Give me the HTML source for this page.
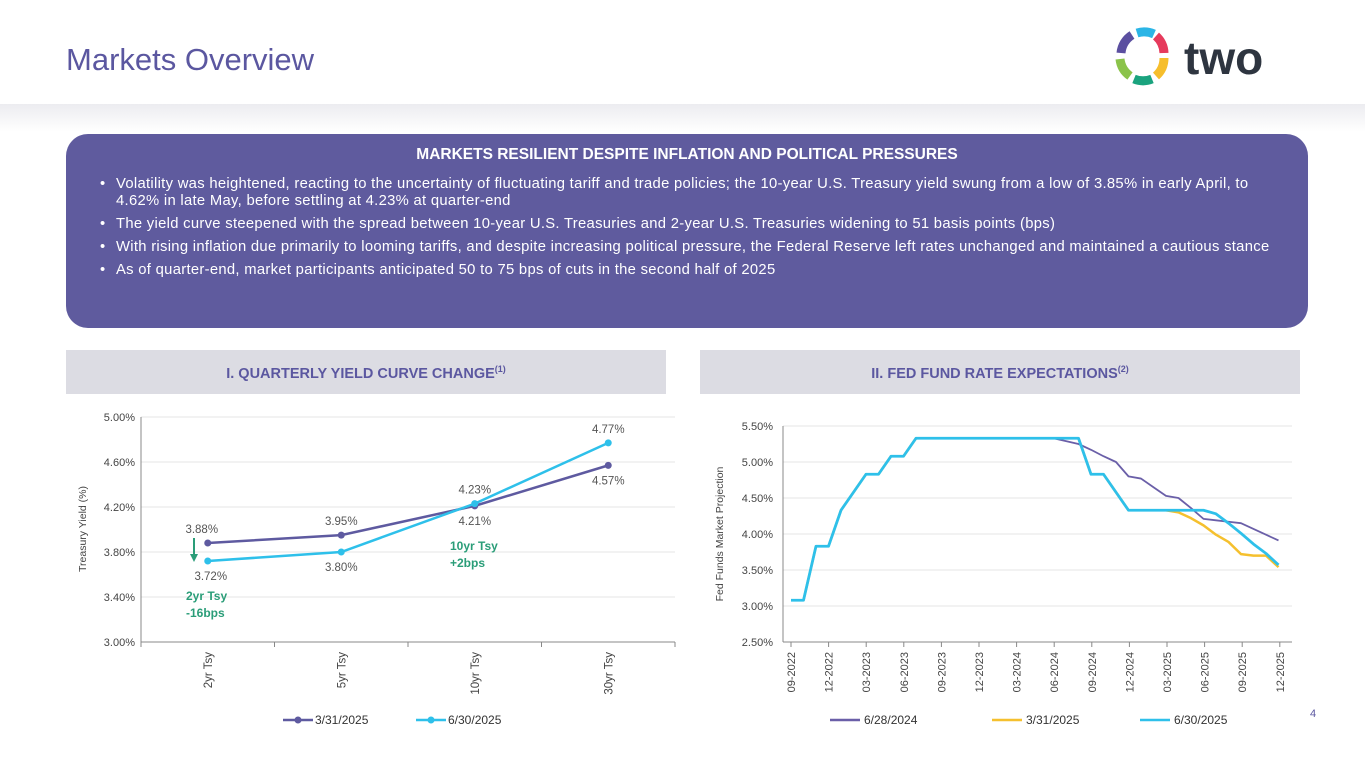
<!DOCTYPE html>
<html><head><meta charset="utf-8">
<style>
body{margin:0;width:1365px;height:768px;background:#fff;font-family:"Liberation Sans",sans-serif;overflow:hidden;position:relative}
.abs{position:absolute}
#title{left:66px;top:42px;font-size:31px;color:#5b57a0}
#band{left:0;top:104px;width:1365px;height:28px;background:linear-gradient(#ececf0,#fff)}
#banner{left:66px;top:134px;width:1242px;height:194px;background:#5f5b9e;border-radius:22px;color:#fff}
#banner h2{margin:0;text-align:center;font-size:15.5px;font-weight:bold;padding-top:12px}
#banner ul{margin:12px 0 0 0;padding:0 18px 0 50px;font-size:14.8px;letter-spacing:0.3px;line-height:17px;list-style:none}
#banner li{position:relative;margin-bottom:6px}
#banner li:before{content:"•";position:absolute;left:-16px}
.hdr{top:350px;height:44px;width:600px;background:#dcdce3;color:#5b57a0;font-weight:bold;font-size:14.5px;text-align:center;line-height:38px}
</style></head><body>
<div class="abs" id="title">Markets Overview</div>
<svg class="abs" style="left:1112px;top:26px" width="190" height="64">
 <g fill="none" stroke-width="9">
  <path d="M25 7 A24 24 0 0 1 42 8" stroke="#2bb5e6"/>
  <path d="M44 10 A24 24 0 0 1 52 27" stroke="#e63a5c"/>
  <path d="M52 32 A24 24 0 0 1 44 50" stroke="#f6be2c"/>
  <path d="M40 53 A24 24 0 0 1 22 53" stroke="#1aa37e"/>
  <path d="M18 50 A24 24 0 0 1 8 33" stroke="#8bc34a"/>
  <path d="M9 27 A24 24 0 0 1 20 9" stroke="#5b4fa0"/>
 </g>
 <text x="72" y="48" font-size="46" font-weight="bold" fill="#2e3540" font-family="Liberation Sans,sans-serif">two</text>
</svg>
<div class="abs" id="band"></div>
<div class="abs" id="banner">
<h2>MARKETS RESILIENT DESPITE INFLATION AND POLITICAL PRESSURES</h2>
<ul>
<li>Volatility was heightened, reacting to the uncertainty of fluctuating tariff and trade policies; the 10-year U.S. Treasury yield swung from a low of 3.85% in early April, to<br>4.62% in late May, before settling at 4.23% at quarter-end</li>
<li>The yield curve steepened with the spread between 10-year U.S. Treasuries and 2-year U.S. Treasuries widening to 51 basis points (bps)</li>
<li>With rising inflation due primarily to looming tariffs, and despite increasing political pressure, the Federal Reserve left rates unchanged and maintained a cautious stance</li>
<li>As of quarter-end, market participants anticipated 50 to 75 bps of cuts in the second half of 2025</li>
</ul></div>
<div class="abs hdr" style="left:66px">I. QUARTERLY YIELD CURVE CHANGE<sup style="font-size:9px">(1)</sup></div>
<div class="abs hdr" style="left:700px">II. FED FUND RATE EXPECTATIONS<sup style="font-size:9px">(2)</sup></div>
<div class="abs" style="left:1310px;top:708px;font-size:11px;color:#5b57a0">4</div>
<svg class="abs" style="left:0;top:0" width="1365" height="768" id="charts"></svg>
<script>
const ycCats=["2yr Tsy","5yr Tsy","10yr Tsy","30yr Tsy"];
const ycMar=[3.88,3.95,4.21,4.57];
const ycJun=[3.72,3.80,4.23,4.77];
const ycTicks=[3.0,3.4,3.8,4.2,4.6,5.0];
const ffTicks=[2.5,3.0,3.5,4.0,4.5,5.0,5.5];
const ffLabels=["09-2022","12-2022","03-2023","06-2023","09-2023","12-2023","03-2024","06-2024","09-2024","12-2024","03-2025","06-2025","09-2025","12-2025"];
const ffJun25=[3.08,3.08,3.83,3.83,4.33,4.58,4.83,4.83,5.08,5.08,5.33,5.33,5.33,5.33,5.33,5.33,5.33,5.33,5.33,5.33,5.33,5.33,5.33,5.33,4.83,4.83,4.58,4.33,4.33,4.33,4.33,4.33,4.33,4.33,4.28,4.15,4.01,3.86,3.73,3.57];
const ffMar25=[3.08,3.08,3.83,3.83,4.33,4.58,4.83,4.83,5.08,5.08,5.33,5.33,5.33,5.33,5.33,5.33,5.33,5.33,5.33,5.33,5.33,5.33,5.33,5.33,4.83,4.83,4.58,4.33,4.33,4.33,4.33,4.30,4.22,4.12,3.99,3.89,3.72,3.70,3.70,3.54];
const ffJun24=[3.08,3.08,3.83,3.83,4.33,4.58,4.83,4.83,5.08,5.08,5.33,5.33,5.33,5.33,5.33,5.33,5.33,5.33,5.33,5.33,5.33,5.33,5.29,5.25,5.17,5.08,5.00,4.80,4.77,4.65,4.53,4.50,4.36,4.21,4.19,4.17,4.15,4.07,3.99,3.91];
const svg=document.getElementById('charts');const NS='http://www.w3.org/2000/svg';
function mk(t,a,txt){const e=document.createElementNS(NS,t);for(const k in a)e.setAttribute(k,a[k]);if(txt!==undefined)e.textContent=txt;svg.appendChild(e);return e;}
// left chart
const lx0=141,lx1=675,ly=v=>642-(v-3.0)/2.0*225;const lx=i=>lx0+(lx1-lx0)/4*(i+0.5);
ycTicks.forEach(t=>{let g=mk('line',{x1:lx0,x2:lx1,y1:ly(t),y2:ly(t),stroke:t==3?'#888':'#e4e4e4'});
 let l=mk('text',{x:lx0-6,y:ly(t)+4,'text-anchor':'end','font-size':11,fill:'#444'},t.toFixed(2)+'%');});
mk('line',{x1:lx0,x2:lx0,y1:417,y2:642,stroke:'#888'});
for(let i=0;i<=4;i++)mk('line',{x1:lx0+(lx1-lx0)/4*i,x2:lx0+(lx1-lx0)/4*i,y1:642,y2:647,stroke:'#888'});
ycCats.forEach((c,i)=>{let t=mk('text',{transform:`translate(${lx(i)+4},${652}) rotate(-90)`,'text-anchor':'end','font-size':11.5,fill:'#444'},c);});
let yt=mk('text',{transform:'translate(86,529) rotate(-90)','text-anchor':'middle','font-size':10.5,fill:'#444'},'Treasury Yield (%)');
[[ycMar,'#5e5aa0','series-mar-2025'],[ycJun,'#2ec0ea','series-jun-2025']].forEach(([d,c,n])=>{
 let p=mk('polyline',{points:d.map((v,i)=>lx(i)+','+ly(v)).join(' '),fill:'none',stroke:c,'stroke-width':2.5});
 d.forEach((v,i)=>{let m=mk('circle',{cx:lx(i),cy:ly(v),r:3.5,fill:c});});});
const below=[ [false,false,true,true],[true,true,false,false] ];
[ycMar,ycJun].forEach((d,s)=>d.forEach((v,i)=>{let b=below[s][i];let t=mk('text',{x:lx(i)+(s==1&&i==0?3:0)-(s==0&&i==0?6:0),y:ly(v)+(b?19:-10),'text-anchor':'middle','font-size':11.5,fill:'#555'},v.toFixed(2)+'%');}));
mk('line',{x1:194,x2:194,y1:538,y2:556,stroke:'#2a9d78','stroke-width':2});mk('path',{d:'M190 554 L198 554 L194 562 Z',fill:'#2a9d78'});
[['2yr Tsy',186,600],['-16bps',186,617],['10yr Tsy',450,550],['+2bps',450,567]].forEach(([s,x,y])=>{let t=mk('text',{x,y,'font-size':12,'font-weight':'bold',fill:'#2a9d78'},s);});
[[283,'#5e5aa0','3/31/2025'],[416,'#2ec0ea','6/30/2025']].forEach(([x,c,s])=>{mk('line',{x1:x,x2:x+30,y1:720,y2:720,stroke:c,'stroke-width':2.5});mk('circle',{cx:x+15,cy:720,r:3.5,fill:c});let t=mk('text',{x:x+32,y:724,'font-size':12,fill:'#333'},s);});
// right chart
const rx0=783,rx1=1292,ry=v=>642-(v-2.5)*72,rq=i=>791+37.6*i,rm=i=>791+12.5*i;
ffTicks.forEach(t=>{let g=mk('line',{x1:rx0,x2:rx1,y1:ry(t),y2:ry(t),stroke:t==2.5?'#888':'#e4e4e4'});
 let l=mk('text',{x:rx0-10,y:ry(t)+4,'text-anchor':'end','font-size':11,fill:'#444'},t.toFixed(2)+'%');});
mk('line',{x1:rx0,x2:rx0,y1:426,y2:642,stroke:'#888'});
ffLabels.forEach((c,i)=>{mk('line',{x1:rq(i),x2:rq(i),y1:642,y2:647,stroke:'#888'});let t=mk('text',{transform:`translate(${rq(i)+4},${652}) rotate(-90)`,'text-anchor':'end','font-size':11,fill:'#444'},c);});
let yt2=mk('text',{transform:'translate(723,534) rotate(-90)','text-anchor':'middle','font-size':10.5,fill:'#444'},'Fed Funds Market Projection');
[[ffJun24,'#6a5fa8',1.8,'series-jun-2024'],[ffMar25,'#f5c02e',2.5,'series-mar-2025'],[ffJun25,'#2ec0ea',2.8,'series-jun-2025']].forEach(([d,c,w,n])=>{let p=mk('polyline',{points:d.map((v,i)=>rm(i)+','+ry(v)).join(' '),fill:'none',stroke:c,'stroke-width':w,'stroke-linejoin':'round'});});
[[830,'#6a5fa8','6/28/2024'],[992,'#f5c02e','3/31/2025'],[1140,'#2ec0ea','6/30/2025']].forEach(([x,c,s])=>{mk('line',{x1:x,x2:x+30,y1:720,y2:720,stroke:c,'stroke-width':2.5});let t=mk('text',{x:x+34,y:724,'font-size':12,fill:'#333'},s);});
</script>
</body></html>
